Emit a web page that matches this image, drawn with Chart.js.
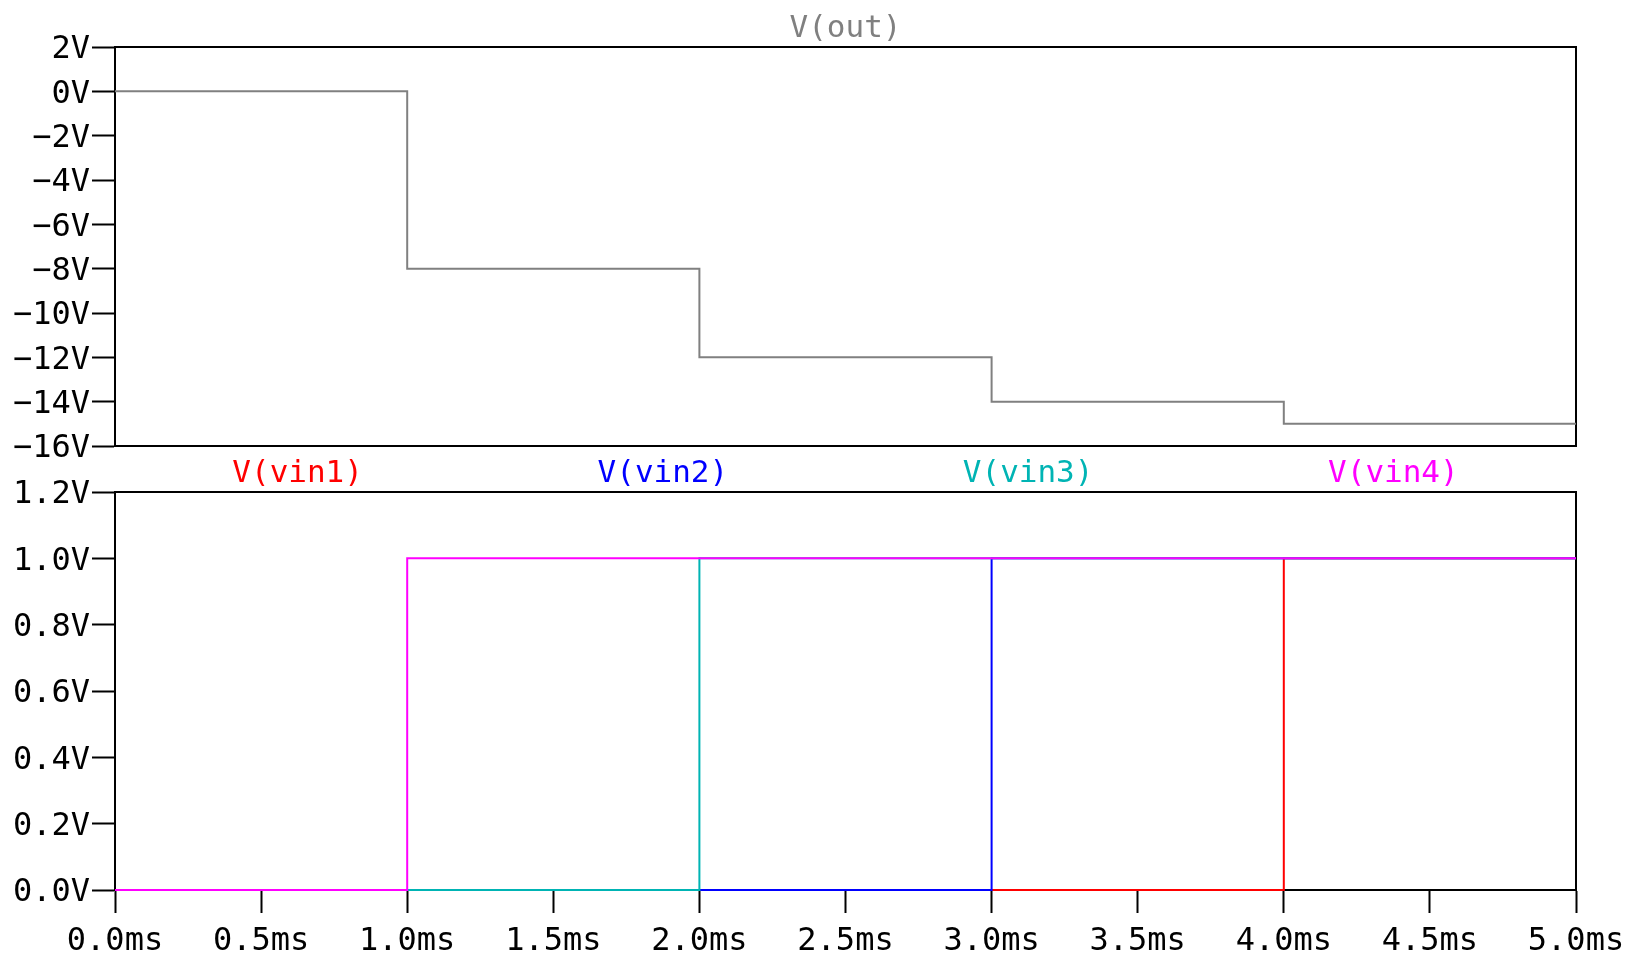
<!DOCTYPE html>
<html>
<head>
<meta charset="utf-8">
<script src="https://cdn.jsdelivr.net/npm/chart.js@4/dist/chart.umd.min.js"></script>
<style>
  html, body { margin: 0; padding: 0; background: #fff; }
  #wrap { position: relative; width: 1627px; height: 964px; }
  #wrap canvas { position: absolute; left: 0; top: 0; }
</style>
</head>
<body>
<div id="wrap">
  <canvas id="outChart" width="1627" height="964"></canvas>
  <canvas id="inChart" width="1627" height="964"></canvas>
</div>
<script>
// time points (ms) where the signals change
const times = [0, 1, 2, 3, 4, 5];
const vOut = [0, -8, -12, -14, -15, -15];
const vin1 = [0, 0, 0, 0, 1, 1];
const vin2 = [0, 0, 0, 1, 1, 1];
const vin3 = [0, 0, 1, 1, 1, 1];
const vin4 = [0, 1, 1, 1, 1, 1];

const outTicks = [2, 0, -2, -4, -6, -8, -10, -12, -14, -16];
const inTicks = [0, 0.2, 0.4, 0.6, 0.8, 1.0, 1.2];
const timeTicks = [0, 0.5, 1, 1.5, 2, 2.5, 3, 3.5, 4, 4.5, 5];

const FONT = "'DejaVu Sans Mono', monospace";
const toPts = (ys) => times.map((t, i) => ({ x: t, y: ys[i] }));
const fmtV = (v) => (v < 0 ? '\u2212' + Math.abs(v) : String(v)) + 'V';

// draws the box round the plot and the trace names
const framePlugin = {
  id: 'frame',
  beforeDatasetsDraw(chart, args, opts) {
    const { ctx, chartArea: a } = chart;
    ctx.save();
    ctx.strokeStyle = '#000';
    ctx.lineWidth = 2;
    ctx.strokeRect(a.left, a.top, a.right - a.left, a.bottom - a.top);
    ctx.restore();
  },
  afterDraw(chart, args, opts) {
    const { ctx, chartArea: a } = chart;
    const sets = chart.data.datasets;
    const n = sets.length;
    ctx.save();
    ctx.font = '31px ' + FONT;
    ctx.textAlign = 'center';
    ctx.textBaseline = 'middle';
    sets.forEach((ds, k) => {
      ctx.fillStyle = ds.borderColor;
      const x = a.left + (a.right - a.left) * (2 * k + 1) / (2 * n);
      ctx.fillText(ds.label, x, opts.y);
    });
    ctx.restore();
  }
};

const yTickStyle = {
  grid: { drawOnChartArea: false, drawTicks: true, tickLength: 23, tickWidth: 2, tickColor: '#000' },
  border: { display: true, color: '#000', width: 2 }
};

new Chart(document.getElementById('outChart'), {
  type: 'line',
  data: {
    datasets: [{
      label: 'V(out)',
      data: toPts(vOut),
      borderColor: '#808080',
      borderWidth: 2,
      stepped: 'before',
      pointRadius: 0,
      clip: false
    }]
  },
  options: {
    responsive: false,
    animation: false,
    devicePixelRatio: 1,
    layout: { padding: { left: 0, right: 51, top: 47, bottom: 518 } },
    plugins: {
      legend: { display: false },
      tooltip: { enabled: false },
      frame: { y: 29 }
    },
    scales: {
      x: { type: 'linear', min: 0, max: 5, display: false },
      y: {
        type: 'linear', min: -16, max: 2,
        afterFit: (s) => { s.width = 115; },
        afterBuildTicks: (s) => { s.ticks = outTicks.map(v => ({ value: v })); },
        ticks: { callback: fmtV, color: '#000', font: { family: FONT, size: 32 }, padding: 2, labelOffset: 3 },
        ...yTickStyle
      }
    }
  },
  plugins: [framePlugin]
});

// vin4 is drawn on top, vin1 underneath
new Chart(document.getElementById('inChart'), {
  type: 'line',
  data: {
    datasets: [
      { label: 'V(vin1)', data: toPts(vin1), borderColor: '#ff0000', order: 3 },
      { label: 'V(vin2)', data: toPts(vin2), borderColor: '#0000ff', order: 2 },
      { label: 'V(vin3)', data: toPts(vin3), borderColor: '#00b4b4', order: 1 },
      { label: 'V(vin4)', data: toPts(vin4), borderColor: '#ff00ff', order: 0 }
    ].map(d => ({ ...d, borderWidth: 2, stepped: 'before', pointRadius: 0, clip: false }))
  },
  options: {
    responsive: false,
    animation: false,
    devicePixelRatio: 1,
    layout: { padding: { left: 0, right: 51, top: 492, bottom: 0 } },
    plugins: {
      legend: { display: false },
      tooltip: { enabled: false },
      frame: { y: 474 }
    },
    scales: {
      x: {
        type: 'linear', min: 0, max: 5,
        afterFit: (s) => { s.height = 74; s.paddingLeft = 0; s.paddingRight = 0; },
        afterBuildTicks: (s) => { s.ticks = timeTicks.map(v => ({ value: v })); },
        ticks: {
          callback: (v) => v.toFixed(1) + 'ms',
          color: '#000', font: { family: FONT, size: 32 }, padding: 9, maxRotation: 0, autoSkip: false
        },
        grid: { drawOnChartArea: false, drawTicks: true, tickLength: 23, tickWidth: 2, tickColor: '#000' },
        border: { display: true, color: '#000', width: 2 }
      },
      y: {
        type: 'linear', min: 0, max: 1.2,
        afterFit: (s) => { s.width = 115; },
        afterBuildTicks: (s) => { s.ticks = inTicks.map(v => ({ value: v })); },
        ticks: { callback: (v) => v.toFixed(1) + 'V', color: '#000', font: { family: FONT, size: 32 }, padding: 2, labelOffset: 3 },
        ...yTickStyle
      }
    }
  },
  plugins: [framePlugin]
});
</script>
</body>
</html>
